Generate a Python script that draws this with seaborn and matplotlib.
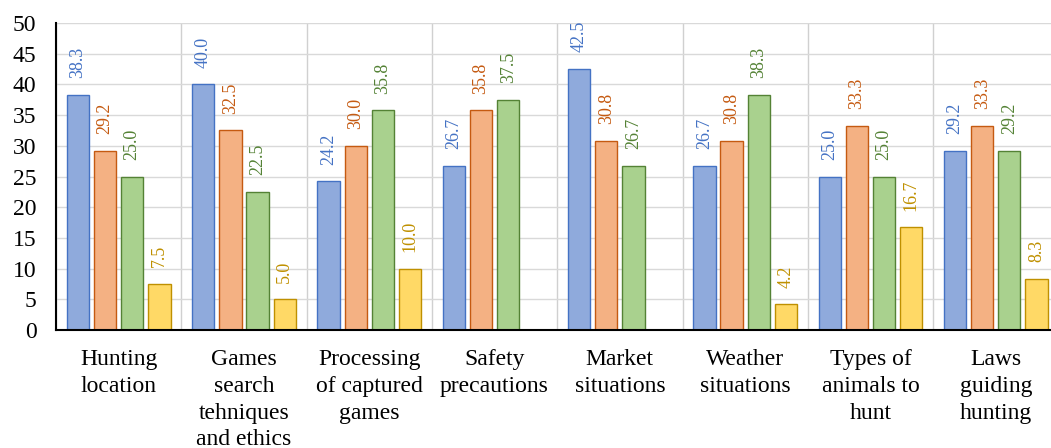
import numpy as np
import pandas as pd
import seaborn as sns
import matplotlib.pyplot as plt
from matplotlib.ticker import FixedLocator

categories = ["Hunting\nlocation", "Games\nsearch\ntehniques\nand ethics",
              "Processing\nof captured\ngames", "Safety\nprecautions",
              "Market\nsituations", "Weather\nsituations",
              "Types of\nanimals to\nhunt", "Laws\nguiding\nhunting"]
series_names = ["S1", "S2", "S3", "S4"]
s1 = [38.3, 40.0, 24.2, 26.7, 42.5, 26.7, 25.0, 29.2]
s2 = [29.2, 32.5, 30.0, 35.8, 30.8, 30.8, 33.3, 33.3]
s3 = [25.0, 22.5, 35.8, 37.5, 26.7, 38.3, 25.0, 29.2]
s4 = [7.5, 5.0, 10.0, np.nan, np.nan, 4.2, 16.7, 8.3]
yticks = [0, 5, 10, 15, 20, 25, 30, 35, 40, 45, 50]

fills = ["#8FAADC", "#F4B183", "#A9D18E", "#FFD966"]
edges = ["#4472C4", "#C55A11", "#548235", "#BF9000"]
label_cols = ["#4472C4", "#C55A11", "#548235", "#BF9000"]

rows = []
for name, vals in zip(series_names, [s1, s2, s3, s4]):
    for c, v in zip(categories, vals):
        rows.append({"cat": c, "series": name, "val": v})
df = pd.DataFrame(rows)

sns.set_theme(style="white")
plt.rcParams['font.family'] = ['Liberation Serif', 'DejaVu Serif']

fig = plt.figure(figsize=(10.51, 4.48), dpi=100)
ax = fig.add_axes([56/1051, 1-330/448, (1058.4-56)/1051, (330-23)/448])

sns.barplot(data=df, x="cat", y="val", hue="series", order=categories,
            hue_order=series_names, palette=fills, saturation=1, width=0.868, gap=0.18,
            legend=False, ax=ax, linewidth=1.0)

for cont, ec, lc in zip(ax.containers, edges, label_cols):
    for bar in cont:
        bar.set_edgecolor(ec)
        bar.set_linewidth(1.0)
    vals = [b.get_height() for b in cont]
    labels = ["" if (v is None or np.isnan(v)) else f"{v:.1f}" for v in vals]
    ax.bar_label(cont, labels=labels, padding=12, rotation=90, color=lc,
                 fontsize=13, family=['Liberation Serif'])

ax.set_xlim(-0.5, 7.5)
ax.set_ylim(0, 50)
ax.set_yticks(yticks)
ax.set_xlabel("")
ax.set_ylabel("")

# category boundaries as minor ticks with gridlines
ax.xaxis.set_minor_locator(FixedLocator(np.arange(-0.5, 8.0, 1.0)))
ax.tick_params(axis='x', which='major', length=0, pad=14, labelsize=17)
ax.tick_params(axis='x', which='minor', length=6, width=1.5, color='black', direction='out')
ax.tick_params(axis='y', which='major', length=5, width=1.5, color='black',
               direction='out', pad=9, labelsize=17)
for lbl in ax.get_xticklabels():
    lbl.set_linespacing(1.35)
    lbl.set_color('black')
for lbl in ax.get_yticklabels():
    lbl.set_color('black')

ax.grid(False)
ax.yaxis.grid(True, which='major', color='#D9D9D9', linewidth=1.0)
ax.xaxis.grid(True, which='minor', color='#D0D0D0', linewidth=1.0)
ax.set_axisbelow(True)

for side in ['top', 'right']:
    ax.spines[side].set_visible(False)
for side in ['left', 'bottom']:
    ax.spines[side].set_color('black')
    ax.spines[side].set_linewidth(1.5)

fig.savefig("out.png", dpi=100)
